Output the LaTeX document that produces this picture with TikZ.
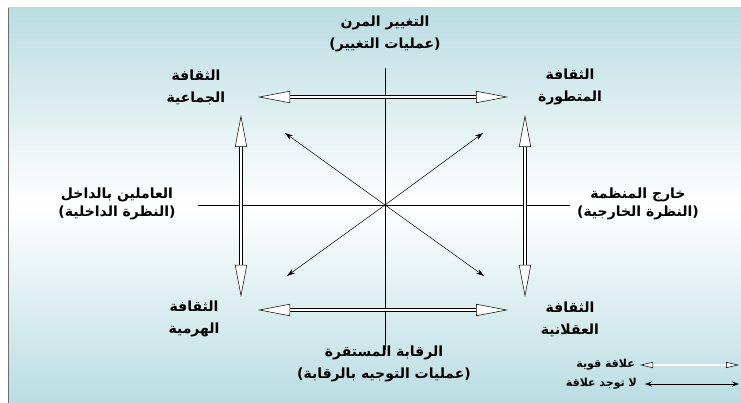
\documentclass[tikz,border=0pt]{standalone}
\usepackage{fontspec}
\usepackage{tikz}
\usetikzlibrary{arrows.meta, positioning, calc}
\newfontfamily\arabicfont[Script=Arabic]{DejaVu Sans}
\TeXXeTstate=1
\definecolor{fondo}{RGB}{186,221,226}
\definecolor{borde}{RGB}{110,110,110}
\tikzset{
  axis/.style={draw=black, line width=0.6pt},
  strong/.style={double=white, double distance=2.6pt, line width=0.5pt,
    {Triangle[open, fill=white, length=32pt, width=12pt]}-{Triangle[open, fill=white, length=32pt, width=12pt]}},
  strongsm/.style={double=white, double distance=1.6pt, line width=0.5pt,
    {Triangle[open, fill=white, length=13pt, width=6pt]}-{Triangle[open, fill=white, length=13pt, width=6pt]}},
  norel/.style={{Stealth[length=7pt, width=5pt]}-{Stealth[length=7pt, width=5pt]}, line width=0.6pt},
  diag/.style={-{Stealth[length=8pt, width=5pt]}, line width=0.5pt},
  lbl/.style={font=\arabicfont\bfseries\fontsize{14}{22}\selectfont, align=center, inner sep=0pt},
  side/.style={font=\arabicfont\bfseries\fontsize{14}{18}\selectfont, align=center, inner sep=0pt},
  legend/.style={font=\arabicfont\bfseries\fontsize{11}{13}\selectfont, anchor=east, inner sep=0pt}
}
\begin{document}
\begin{tikzpicture}[x=1pt, y=-1pt]
  \useasboundingbox (0,0) rectangle (741,403);
  % background
  \fill[top color=fondo, bottom color=fondo, middle color=white] (8,8) rectangle (741,403);
  \draw[borde, line width=0.8pt] (8,8) -- (8,403);

  % labels
  \node[lbl] (lblN) at (385,34)
    {\beginR التغيير المرن\endR\\ \beginR(عمليات التغيير)\endR};
  \node[lbl] (lblS) at (384,364)
    {\beginR الرقابة المستقرة\endR\\ \beginR(عمليات التوجيه بالرقابة)\endR};
  \node[side] (lblW) at (117,204)
    {\beginR العاملين بالداخل\endR\\ \beginR(النظرة الداخلية)\endR};
  \node[side] (lblE) at (638,204)
    {\beginR خارج المنظمة\endR\\ \beginR(النظرة الخارجية)\endR};
  \node[lbl] (cTL) at (196,87) {\beginR الثقافة\endR\\ \beginR الجماعية\endR};
  \node[lbl] (cTR) at (570,87) {\beginR الثقافة\endR\\ \beginR المتطورة\endR};
  \node[lbl] (cBL) at (194,319) {\beginR الثقافة\endR\\ \beginR الهرمية\endR};
  \node[lbl] (cBR) at (570,319) {\beginR الثقافة\endR\\ \beginR العقلانية\endR};

  % axes
  \coordinate (O) at (385,205);
  \coordinate (axN) at (385,68);
  \coordinate (axS) at (385,350);
  \coordinate (axW) at (198,205);
  \coordinate (axE) at (570,205);
  \draw[axis] (axN) -- (axS);
  \draw[axis] (axW) -- (axE);

  % strong relations
  \coordinate (tL) at (258,97);  \coordinate (tR) at (508,97);
  \coordinate (bL) at (258,310); \coordinate (bR) at (508,310);
  \coordinate (lT) at (241,115); \coordinate (lB) at (241,297);
  \coordinate (rT) at (525,115); \coordinate (rB) at (525,297);
  \draw[strong] (tL) -- (tR);
  \draw[strong] (bL) -- (bR);
  \draw[strong] (lT) -- (lB);
  \draw[strong] (rT) -- (rB);

  % no relation
  \coordinate (dTL) at (285,133); \coordinate (dTR) at (483,133);
  \coordinate (dBL) at (287,276); \coordinate (dBR) at (484,276);
  \foreach \d in {dTL,dTR,dBL,dBR}
    \draw[diag] (O) -- (\d);

  % legend
  \node[legend] (legStrong) at (635,365) {\beginR علاقة قوية\endR};
  \node[legend] (legNone) at (637,384) {\beginR لا توجد علاقة\endR};
  \coordinate (lsA) at (640,365); \coordinate (lsB) at (739,365);
  \coordinate (lnA) at (645,384); \coordinate (lnB) at (739,384);
  \draw[strongsm] (lsA) -- (lsB);
  \draw[norel] (lnA) -- (lnB);
\end{tikzpicture}
\end{document}
